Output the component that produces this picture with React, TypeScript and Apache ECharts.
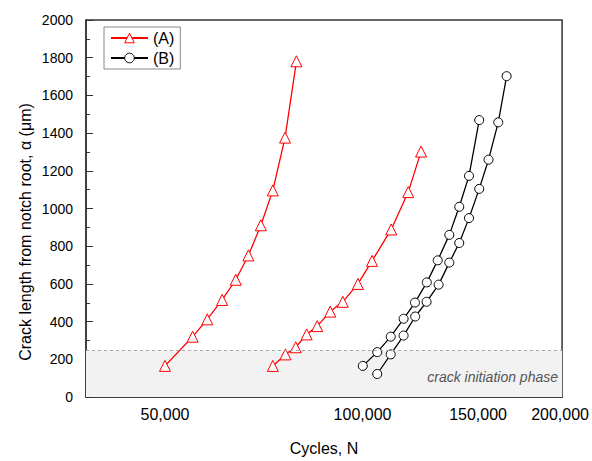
import React, { useEffect, useRef } from "react";
import * as echarts from "echarts";

const seriesNames = ["(A)", "(B)"];
// [cycles, crack length µm]
const a1: [number, number][] = [
  [50000, 165], [55100, 320], [58000, 412], [61100, 515], [64100, 622], [67000, 751],
  [70000, 911], [73000, 1096], [76200, 1376], [79300, 1781],
];
const a2: [number, number][] = [
  [73000, 165], [76300, 226], [79100, 264], [82200, 332], [85300, 376], [89300, 453],
  [93300, 505], [98400, 600], [103400, 722], [110600, 889], [117400, 1087], [122800, 1302],
];
const b1: [number, number][] = [
  [100100, 165], [105300, 238], [110400, 320], [115500, 415], [120200, 501], [125300, 608],
  [130200, 725], [135600, 860], [140400, 1009], [145300, 1173], [150600, 1469],
];
const b2: [number, number][] = [
  [105300, 122], [110400, 226], [115500, 326], [120300, 427], [125200, 505], [130600, 596],
  [135600, 713], [140400, 817], [145300, 949], [150600, 1104], [155600, 1259], [161000, 1457],
  [165800, 1702],
];
const xMajor = [50000, 100000, 150000, 200000];
const xMinor = [40000, 60000, 70000, 80000, 90000, 110000, 120000, 130000, 140000, 160000, 170000, 180000, 190000];
const initiationLimit = 250;
const xTitle = "Cycles, N";
const yTitle = "Crack length from notch root, α (μm)";
const bandText = "crack initiation phase";

const FONT = "'Liberation Sans', Arial, sans-serif";

export default function App() {
  const ref = useRef<HTMLDivElement>(null);
  useEffect(() => {
    if (!ref.current) return;
    const chart = echarts.init(ref.current, null, { renderer: "svg" });
    const xmin = 37900;
    const xmax = 201400;
    const redStyle = {
      type: "line" as const,
      name: seriesNames[0],
      symbol: "triangle",
      symbolSize: 11,
      lineStyle: { color: "#ff0000", width: 1.3 },
      itemStyle: { color: "#ffffff", borderColor: "#ff0000", borderWidth: 1 },
      xAxisIndex: 0,
      yAxisIndex: 0,
      z: 3,
    };
    const blackStyle = {
      type: "line" as const,
      name: seriesNames[1],
      symbol: "circle",
      symbolSize: 9,
      lineStyle: { color: "#000000", width: 1.3 },
      itemStyle: { color: "#ffffff", borderColor: "#000000", borderWidth: 1 },
      xAxisIndex: 0,
      yAxisIndex: 0,
      z: 3,
    };
    chart.setOption({
      animation: false,
      textStyle: { fontFamily: FONT },
      grid: {
        left: 86,
        top: 20,
        right: 29,
        bottom: 54,
        show: true,
        borderColor: "#333",
        borderWidth: 1.5,
        backgroundColor: "transparent",
      },
      legend: {
        orient: "vertical",
        left: 104,
        top: 27,
        padding: [3, 6, 3, 6],
        itemGap: 4,
        itemWidth: 37,
        itemHeight: 12,
        borderColor: "#888",
        borderWidth: 1,
        textStyle: { fontSize: 16, color: "#000", fontFamily: FONT },
        data: [
          { name: seriesNames[0], itemStyle: { color: "#ffffff", borderColor: "#ff0000", borderWidth: 1 } },
          { name: seriesNames[1], itemStyle: { color: "#ffffff", borderColor: "#000000", borderWidth: 1 } },
        ],
      },
      xAxis: [
        {
          type: "log",
          min: xmin,
          max: xmax,
          name: xTitle,
          nameLocation: "middle",
          nameGap: 43,
          nameTextStyle: { fontSize: 16, color: "#000", fontFamily: FONT },
          axisLine: { show: true, lineStyle: { color: "#333", width: 1.5 } },
          axisTick: { show: true, inside: true, length: 7, customValues: xMajor, lineStyle: { color: "#333" } },
          axisLabel: {
            customValues: xMajor,
            fontSize: 16,
            color: "#000",
            margin: 9,
            fontFamily: FONT,
            formatter: (v: number) => Math.round(v).toLocaleString("en-US"),
          },
          splitLine: { show: false },
        },
        {
          type: "log",
          min: xmin,
          max: xmax,
          position: "bottom",
          axisLine: { show: false },
          axisTick: { show: true, inside: true, length: 4, customValues: xMinor, lineStyle: { color: "#333" } },
          axisLabel: { show: false },
          splitLine: { show: false },
        },
      ],
      yAxis: {
        type: "value",
        min: 0,
        max: 2000,
        interval: 200,
        axisLine: { show: true, lineStyle: { color: "#333", width: 1.5 } },
        axisTick: { show: true, inside: true, length: 7, lineStyle: { color: "#333" } },
        minorTick: { show: true, splitNumber: 2, length: 4, lineStyle: { color: "#333" } },
        axisLabel: {
          fontSize: 14,
          color: "#000",
          margin: 13,
          fontFamily: FONT,
          formatter: (v: number) => String(v),
        },
        splitLine: { show: false },
      },
      graphic: [
        {
          type: "text",
          x: 25,
          y: 232,
          z: 100,
          rotation: Math.PI / 2,
          style: {
            text: yTitle,
            fill: "#000",
            font: `16px ${FONT}`,
            align: "center",
            verticalAlign: "middle",
          },
        },
        {
          type: "text",
          x: 558,
          y: 377,
          z: 100,
          style: {
            text: bandText,
            fill: "#555",
            fontFamily: FONT,
            fontStyle: "italic",
            fontSize: 14,
            align: "right",
            verticalAlign: "middle",
          },
        },
      ],
      series: [
        {
          ...redStyle,
          data: a1,
          markArea: {
            silent: true,
            itemStyle: { color: "#f2f2f2" },
            data: [[{ yAxis: 0 }, { yAxis: initiationLimit }]],
          },
          markLine: {
            silent: true,
            symbol: "none",
            label: { show: false },
            lineStyle: { color: "#aaaaaa", type: [3, 3], width: 1 },
            data: [{ yAxis: initiationLimit }],
          },
        },
        { ...redStyle, data: a2 },
        { ...blackStyle, data: b1 },
        { ...blackStyle, data: b2 },
      ],
    });
    return () => chart.dispose();
  }, []);
  return <div ref={ref} style={{ position: "absolute", left: 0, top: 0, width: 592, height: 461 }} />;
}
